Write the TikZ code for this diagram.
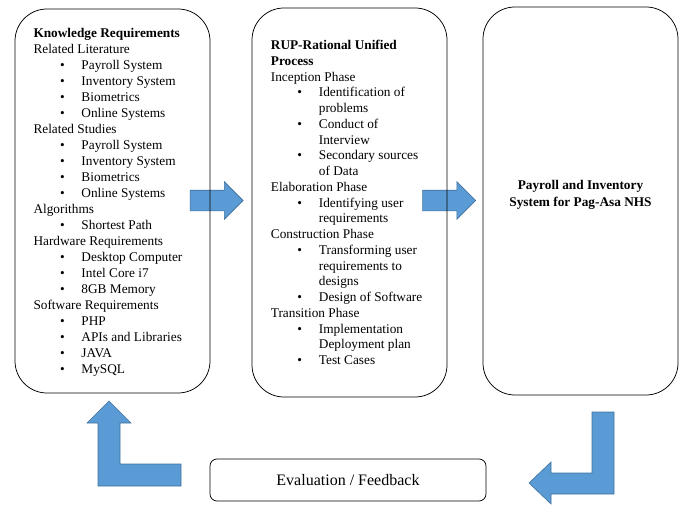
\documentclass[tikz,border=0pt]{standalone}
\usepackage{fontspec}
\setmainfont{Liberation Serif}
\usetikzlibrary{shapes.arrows}
\definecolor{arrowfill}{HTML}{5B9BD5}
\definecolor{arrowline}{HTML}{41719C}
\newcommand{\bul}[1]{\hspace*{26.5pt}\makebox[21.5pt][l]{\textbullet}#1}
\newcommand{\cont}[1]{\hspace*{48pt}#1}

\begin{document}
\begin{tikzpicture}
[x=1pt, y=-1pt, every node/.style={inner sep=0pt},
 phasebox/.style={rectangle, rounded corners=32pt, draw=black, line width=0.75pt, minimum width=195pt},
 listtext/.style={anchor=north west, align=left},
 blockarrow/.style={fill=arrowfill, draw=arrowline, line width=0.6pt},
 rightarrow/.style={blockarrow, single arrow, inner ysep=10pt, inner xsep=0pt, minimum width=37pt, minimum height=53pt, single arrow head extend=8.5pt, single arrow head indent=0pt}]
\useasboundingbox (0,0) rectangle (695,513);
% arrows first, so the box lines stay on top
\node (arrowA) [rightarrow] at (211.5, 200.5) {};
\node (arrowB) [rightarrow] at (444.0, 200.5) {};
\draw [blockarrow] (109,401) -- (131,423) -- (120,423) -- (120,464) -- (181,464) -- (181,486) -- (98,486) -- (98,423) -- (87,423) -- cycle;
\draw [blockarrow] (592,412) -- (614,412) -- (614,494) -- (551,494) -- (551,504) -- (529,483) -- (551,462) -- (551,473) -- (592,473) -- cycle;
% the three boxes
\node (know) [phasebox, minimum height=384pt] at (112.5, 201.0) {};
\node (rup) [phasebox, minimum height=389pt] at (349.5, 202.5) {};
\node (sys) [phasebox, minimum height=388pt] at (580.5, 201.0) {};
\node (eval) [rectangle, rounded corners=7pt, draw=black, line width=0.75pt, minimum width=276pt, minimum height=42pt, font=\fontsize{16}{19}\selectfont] at (348.0, 480.0) {Evaluation / Feedback};
% texts
\node (knowlist) [listtext, font=\fontsize{13.3}{16}\selectfont] at (33.3, 28.0) {\textbf{Knowledge Requirements}\\
Related Literature\\
\bul{Payroll System}\\
\bul{Inventory System}\\
\bul{Biometrics}\\
\bul{Online Systems}\\
Related Studies\\
\bul{Payroll System}\\
\bul{Inventory System}\\
\bul{Biometrics}\\
\bul{Online Systems}\\
Algorithms\\
\bul{Shortest Path}\\
Hardware Requirements\\
\bul{Desktop Computer}\\
\bul{Intel Core i7}\\
\bul{8GB Memory}\\
Software Requirements\\
\bul{PHP}\\
\bul{APIs and Libraries}\\
\bul{JAVA}\\
\bul{MySQL}};
\node (ruplist) [listtext, font=\fontsize{13.3}{15.75}\selectfont] at (270.7, 40.0) {\textbf{RUP-Rational Unified}\\
\textbf{Process}\\
Inception Phase\\
\bul{Identification of}\\
\cont{problems}\\
\bul{Conduct of}\\
\cont{Interview}\\
\bul{Secondary sources}\\
\cont{of Data}\\
Elaboration Phase\\
\bul{Identifying user}\\
\cont{requirements}\\
Construction Phase\\
\bul{Transforming user}\\
\cont{requirements to}\\
\cont{designs}\\
\bul{Design of Software}\\
Transition Phase\\
\bul{Implementation}\\
\cont{Deployment plan}\\
\bul{Test Cases}};
\node (systext) [align=center, font=\fontsize{13.3}{17}\selectfont\bfseries] at (580.5, 194.5) {Payroll and Inventory\\System for Pag-Asa NHS};
\end{tikzpicture}
\end{document}
